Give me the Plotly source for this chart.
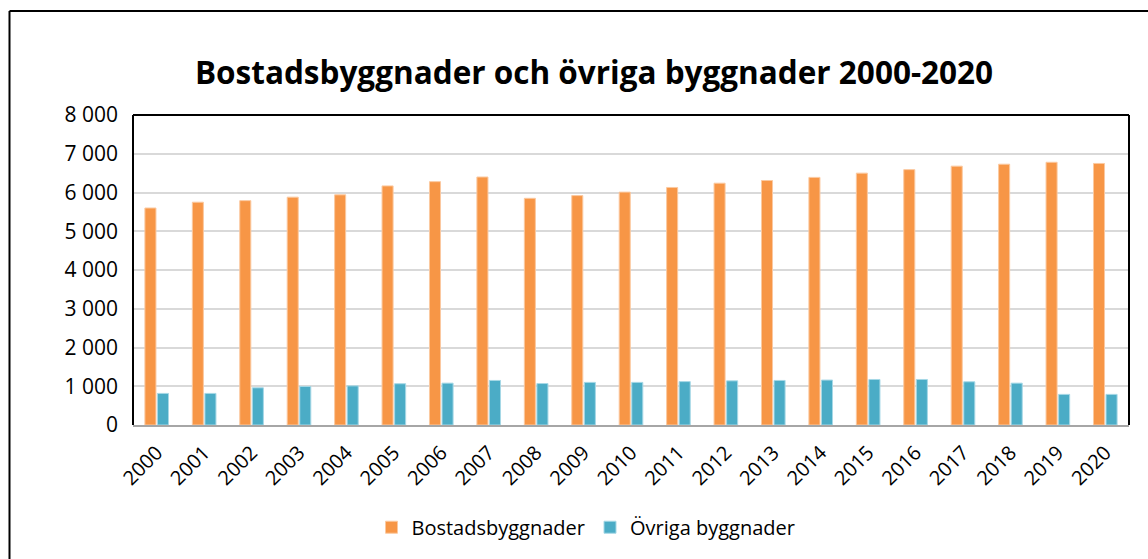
import plotly.graph_objects as go

years = [str(y) for y in range(2000, 2021)]

# Bostadsbyggnader (orange) and Övriga byggnader (teal)
bostad = [5600, 5750, 5790, 5880, 5940, 6170, 6280, 6400, 5850, 5920, 6010,
          6130, 6240, 6310, 6390, 6500, 6590, 6680, 6730, 6780, 6750]
ovriga = [815, 815, 960, 995, 1010, 1065, 1080, 1150, 1070, 1100, 1100,
          1120, 1140, 1150, 1160, 1175, 1175, 1115, 1080, 790, 790]

ORANGE = '#F79646'
TEAL = '#4BACC6'
FONT = 'Open Sans'

fig = go.Figure()
fig.add_trace(go.Bar(x=years, y=bostad, name='Bostadsbyggnader',
                     marker=dict(color=ORANGE, line=dict(color='#FBC9A0', width=1))))
fig.add_trace(go.Bar(x=years, y=ovriga, name='Övriga byggnader',
                     marker=dict(color=TEAL, line=dict(color='#A6D8E6', width=1))))

# plot area in screen pixels (page margin is removed below)
W, H = 1148, 559
L, R, T, B = 133, 1129, 114.5, 424.7
pw, ph = R - L, B - T

def px(x):
    return (x - L) / pw

def py(y):
    return (B - y) / ph

fig.update_layout(
    width=W, height=H,
    margin=dict(l=L, r=W - R, t=T, b=H - B, autoexpand=False),
    paper_bgcolor='white', plot_bgcolor='white',
    barmode='group', bargap=0.47, bargroupgap=0.12,
    separators=', ',
    font=dict(family=FONT, size=20, color='black'),
    title=dict(text='<b>Bostadsbyggnader och övriga byggnader 2000-2020</b>',
               xref='container', x=594 / W, xanchor='center',
               yref='container', y=1 - 73 / H, yanchor='middle',
               font=dict(family=FONT, size=31.5, color='black')),
    legend=dict(orientation='h', x=px(586), xanchor='center',
                y=py(527), yanchor='middle',
                font=dict(family=FONT, size=20), itemwidth=30,
                traceorder='normal'),
    showlegend=True,
)

fig.update_yaxes(range=[0, 8000], dtick=1000, tickformat=',d',
                 showgrid=True, gridcolor='#D9D9D9', gridwidth=1.5,
                 zeroline=False, showline=False, ticks='',
                 ticklabelstandoff=14,
                 tickfont=dict(family=FONT, size=21))
fig.update_xaxes(type='category', tickangle=-45, showline=True,
                 linecolor='#A6A6A6', linewidth=2, ticks='',
                 ticklabelstandoff=6,
                 tickfont=dict(family=FONT, size=20))

# black frame on left, top and right of the plot area
for x0, y0, x1, y1 in [(0, 0, 0, 1), (0, 1, 1, 1), (1, 0, 1, 1)]:
    fig.add_shape(type='line', xref='paper', yref='paper',
                  x0=x0, y0=y0, x1=x1, y1=y1,
                  line=dict(color='black', width=2))

# outer chart frame: only its left and top edges are inside the picture
fig.add_shape(type='line', xref='paper', yref='paper',
              x0=px(9.5), y0=py(600), x1=px(9.5), y1=py(10.5),
              line=dict(color='black', width=2), layer='below')
fig.add_shape(type='line', xref='paper', yref='paper',
              x0=px(9.5), y0=py(10.5), x1=px(1200), y1=py(10.5),
              line=dict(color='black', width=2), layer='below')

fig.write_html('out.html', config={'displayModeBar': False},
               post_script="document.body.style.margin='0';"
                           "document.body.style.overflow='hidden';")
